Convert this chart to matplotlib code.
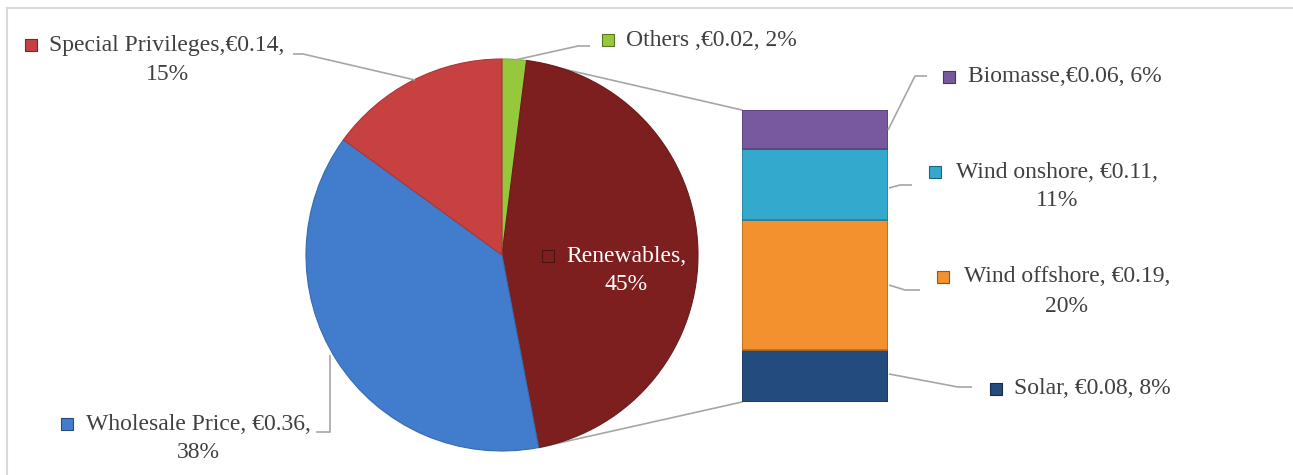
import numpy as np
import matplotlib.pyplot as plt
from matplotlib.patches import ConnectionPatch

# pie part (clockwise from 12 o'clock)
pieNames = ['Others', 'Renewables', 'Wholesale Price', 'Special Privileges']
piePct = [2, 45, 38, 15]
pieEuro = [0.02, 0.44, 0.36, 0.14]
pieColors = ['#96C83C', '#7D1F1F', '#427DCD', '#C84141']
pieLabels = [['Others ,€0.02, 2%'], ['Renewables,', '45%'],
             ['Wholesale Price, €0.36,', '38%'], ['Special Privileges,€0.14,', '15%']]

# breakdown of renewables (bottom to top of the bar)
barNames = ['Solar', 'Wind offshore', 'Wind onshore', 'Biomasse']
barPct = [8, 20, 11, 6]
barEuro = [0.08, 0.19, 0.11, 0.06]
barColors = ['#234B7D', '#F2912D', '#33AACD', '#78599F']
barLabels = [['Solar, €0.08, 8%'], ['Wind offshore, €0.19,', '20%'],
             ['Wind onshore, €0.11,', '11%'], ['Biomasse,€0.06, 6%']]

W, H = 1293, 475
textColor = '#404040'
lineColor = '#A6A6A6'
fontName = ['Liberation Serif', 'DejaVu Serif']
fs = 17


def box(x0, y0, x1, y1):
    #pixel box (top-left origin) -> figure fraction rect
    return [x0 / W, 1 - y1 / H, (x1 - x0) / W, (y1 - y0) / H]


def darker(c, f=0.75):
    r, g, b = plt.matplotlib.colors.to_rgb(c)
    return (r * f, g * f, b * f)


fig = plt.figure(figsize=(W / 100, H / 100), dpi=100)

#overlay for frame, leader lines and labels
ov = fig.add_axes([0, 0, 1, 1], zorder=3)
ov.set_xlim(0, W)
ov.set_ylim(H, 0)
ov.axis('off')
ov.patch.set_alpha(0)

#pie
cx, cy, r = 502, 255, 196
axPie = fig.add_axes(box(cx - r, cy - r, cx + r, cy + r), zorder=1)
wedges, _ = axPie.pie(piePct, colors=pieColors, startangle=90, counterclock=False,
                      wedgeprops=dict(linewidth=0.8, edgecolor='white'))
for w, c in zip(wedges, pieColors):
    w.set_edgecolor(darker(c, 0.85))
axPie.set_aspect('equal')
axPie.set_xlim(-1, 1)
axPie.set_ylim(-1, 1)
axPie.axis('off')

#stacked bar
axBar = fig.add_axes(box(742, 110, 888, 402), zorder=1)
bottoms = np.concatenate([[0], np.cumsum(barPct)[:-1]])
axBar.bar(0, barPct, bottom=bottoms, width=1, color=barColors,
          edgecolor=[darker(c) for c in barColors], linewidth=1.2)
axBar.set_xlim(-0.5, 0.5)
axBar.set_ylim(0, sum(barPct))
axBar.axis('off')

#connectors from the renewables slice to the bar
ren = wedges[1]
for ang, yb in [(ren.theta2, sum(barPct)), (ren.theta1, 0)]:
    p = (np.cos(np.radians(ang)), np.sin(np.radians(ang)))
    con = ConnectionPatch(xyA=p, coordsA=axPie.transData, xyB=(-0.5, yb), coordsB=axBar.transData,
                          color=lineColor, linewidth=1.2)
    fig.add_artist(con)

#frame
ov.plot([7, W], [8, 8], color='#D9D9D9', lw=1.5)
ov.plot([7, 7], [8, H], color='#D9D9D9', lw=1.5)

#leader lines
leaders = [
    [(293, 54), (303, 54), (415, 80)],
    [(590, 46), (578, 46), (515, 60)],
    [(927, 76), (915, 76), (888, 130)],
    [(912, 185), (900, 185), (889, 188)],
    [(920, 290), (905, 290), (889, 285)],
    [(972, 387), (958, 387), (889, 374)],
    [(316, 432), (330, 432), (330, 355)],
]
for pts in leaders:
    xs, ys = zip(*pts)
    ov.plot(xs, ys, color=lineColor, lw=1.2, solid_capstyle='butt')

#label positions: marker x, text centre x, first line y
piePos = [(608, 711, 40), (548, 626, 256), (67, 198, 424), (31, 167, 45)]
barPos = [(996, 1092, 389), (943, 1067, 277), (935, 1057, 172), (949, 1065, 77)]
lineGap = 29


def drawLabel(lines, color, pos, tcolor):
    mx, tx, ty = pos
    ov.scatter([mx], [ty], marker='s', s=70, color=color, edgecolor=darker(color, 0.6),
               linewidth=0.8, zorder=4)
    for i, t in enumerate(lines):
        ov.text(tx, ty + i * lineGap, t, ha='center', va='center', fontsize=fs,
                family=fontName, color=tcolor)


for lines, c, pos, name in zip(pieLabels, pieColors, piePos, pieNames):
    drawLabel(lines, c, pos, 'white' if name == 'Renewables' else textColor)
for lines, c, pos in zip(barLabels, barColors, barPos):
    drawLabel(lines, c, pos, textColor)

fig.savefig('out.png', dpi=100)
